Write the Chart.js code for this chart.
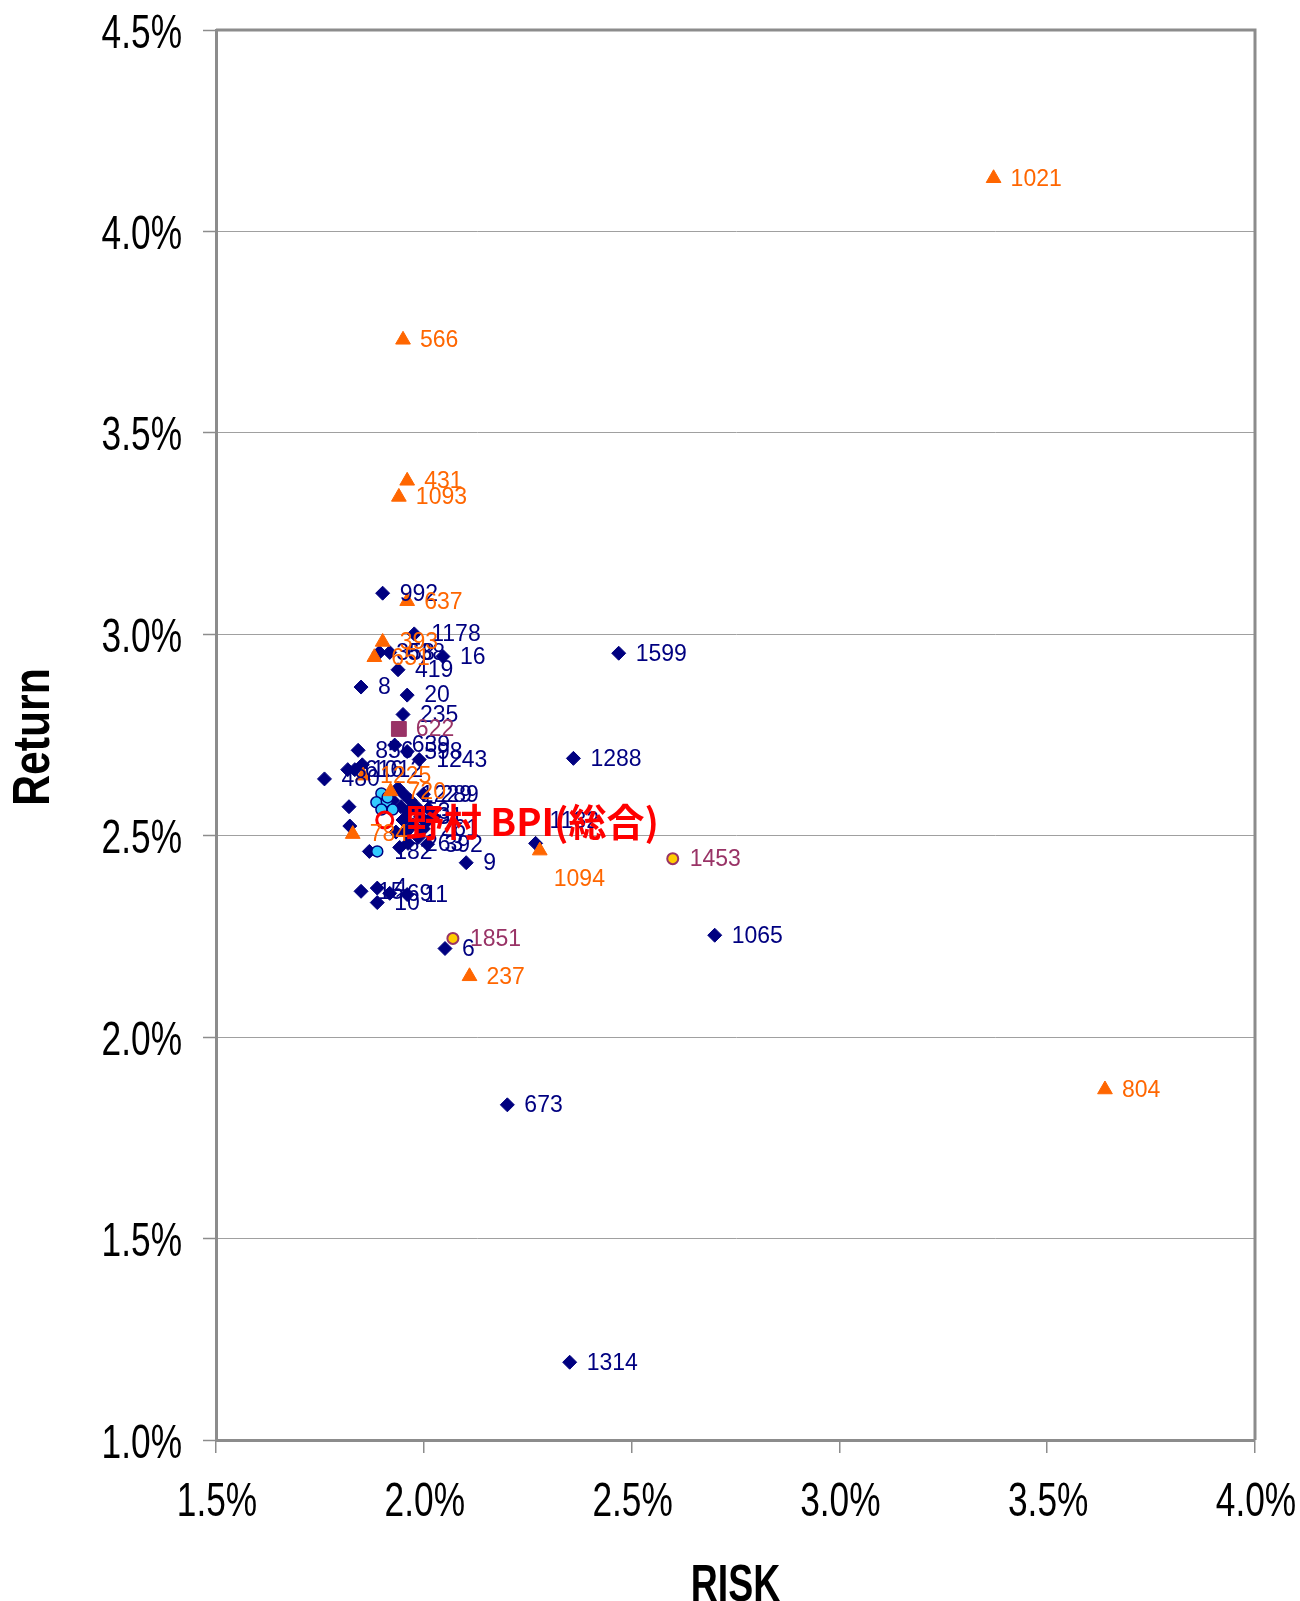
<!DOCTYPE html>
<html lang="ja">
<head>
    <meta charset="UTF-8">
    <title>Risk / Return</title>
    <script src="https://cdn.jsdelivr.net/npm/chart.js"></script>
</head>
<style>
    html, body { margin: 0; padding: 0; background: #fff; }
</style>
<body>
    <canvas id="riskChart" width="1300" height="1601"></canvas>

    <script>
        // [risk %, return %, fund no.]
        const navyFunds = [
            [1.901, 3.102, '992'], [1.977, 3.001, '1178'], [1.893, 2.955, '358'], [1.918, 2.955, '638'],
            [2.046, 2.945, '16'], [1.938, 2.912, '419'], [1.849, 2.869, '8'], [1.960, 2.849, '20'],
            [1.950, 2.801, '235'], [1.842, 2.712, '856'], [1.930, 2.725, '639'], [1.960, 2.709, '598'],
            [1.989, 2.689, '1243'], [1.761, 2.641, '480'], [1.817, 2.664, '616'], [1.834, 2.664, '1012'],
            [1.852, 2.676, ''], [2.469, 2.953, '1599'], [2.360, 2.692, '1288'], [2.269, 2.481, '1132'],
            [2.102, 2.433, '9'], [2.009, 2.479, '392'], [1.820, 2.572, ''], [1.822, 2.524, ''],
            [1.869, 2.461, ''], [1.849, 2.362, '15'], [1.888, 2.370, '4'], [1.918, 2.357, '69'],
            [1.960, 2.354, '11'], [1.888, 2.334, '10'], [2.051, 2.220, '6'], [2.700, 2.253, '1065'],
            [2.201, 1.832, '673'], [2.351, 1.193, '1314'], [1.999, 2.603, '289'],
            [1.938, 2.618, ''], [1.952, 2.603, '1229'], [1.967, 2.588, ''], [1.945, 2.572, ''],
            [1.962, 2.560, '53'], [1.982, 2.572, ''], [1.992, 2.547, '31'], [1.950, 2.539, ''],
            [1.974, 2.527, ''], [1.999, 2.517, '261'], [1.957, 2.509, ''], [2.011, 2.567, ''],
            [1.987, 2.496, ''], [1.962, 2.481, '263'], [1.942, 2.471, ''], [2.006, 2.534, ''],
            [1.925, 2.588, ''], [1.933, 2.509, ''], [2.024, 2.547, '']
        ];
        const orangeFunds = [
            [3.371, 4.132, '1021'], [1.950, 3.731, '566'], [1.960, 3.381, '431'], [1.940, 3.341, '1093'],
            [1.960, 3.082, '637'], [1.901, 2.981, '393'], [1.881, 2.943, '651'], [1.854, 2.649, '1225'],
            [1.920, 2.610, '720'], [1.829, 2.504, '784'], [2.279, 2.463, '1094'], [2.110, 2.151, '237'],
            [3.639, 1.870, '804']
        ];
        const cyanFunds = [
            [1.898, 2.605, ''], [1.886, 2.583, ''], [1.911, 2.585, ''], [1.898, 2.565, ''],
            [1.925, 2.565, ''], [1.913, 2.595, ''], [1.888, 2.461, '182']
        ];
        const squareFunds = [[1.940, 2.765, '622']];
        const yellowFunds = [[2.599, 2.443, '1453'], [2.070, 2.245, '1851']];
        const benchmark = [[1.906, 2.539, '野村 BPI(総合)']];

        const xTicks = [1.5, 2.0, 2.5, 3.0, 3.5, 4.0];
        const yTicks = [1.0, 1.5, 2.0, 2.5, 3.0, 3.5, 4.0, 4.5];
        const xTitle = 'RISK';
        const yTitle = 'Return';

        // labels that sit away from their marker
        const labelShift = { '1094': [14, 29], '1132': [14, -22], '野村 BPI(総合)': [21, 2] };

        const LABEL_FONT = "23px 'Liberation Sans', Arial, sans-serif";

        function toPoints(rows) {
            return rows.map(r => ({ x: r[0], y: r[1] }));
        }

        // drawn in reverse order: last dataset is at the bottom
        const datasets = [
            { label: 'bpi', rows: benchmark, data: toPoints(benchmark), pointStyle: 'circle', pointRadius: 8,
              backgroundColor: 'rgba(0,0,0,0)', borderColor: '#FF0000', borderWidth: 3,
              labelColor: '#FF0000', labelFont: "bold 38px 'Noto Sans CJK JP', sans-serif" },
            { label: 'yellow', rows: yellowFunds, data: toPoints(yellowFunds), pointStyle: 'circle', pointRadius: 5.5,
              backgroundColor: '#FFCC00', borderColor: '#993366', borderWidth: 2,
              labelColor: '#993366', labelFont: LABEL_FONT },
            { label: 'square', rows: squareFunds, data: toPoints(squareFunds), pointStyle: 'rect', pointRadius: 10.5,
              backgroundColor: '#993366', borderColor: '#993366', borderWidth: 1,
              labelColor: '#993366', labelFont: LABEL_FONT },
            { label: 'orange', rows: orangeFunds, data: toPoints(orangeFunds), pointStyle: 'triangle', pointRadius: 8.5,
              backgroundColor: '#FF6600', borderColor: '#FF6600', borderWidth: 1,
              labelColor: '#FF6600', labelFont: LABEL_FONT },
            { label: 'cyan', rows: cyanFunds, data: toPoints(cyanFunds), pointStyle: 'circle', pointRadius: 5.5,
              backgroundColor: '#33CCFF', borderColor: '#000080', borderWidth: 1.5,
              labelColor: '#000080', labelFont: LABEL_FONT },
            { label: 'navy', rows: navyFunds, data: toPoints(navyFunds), pointStyle: 'rectRot', pointRadius: 7,
              backgroundColor: '#000080', borderColor: '#000080', borderWidth: 1,
              labelColor: '#000080', labelFont: LABEL_FONT }
        ];
        datasets.forEach(d => { d.pointHoverRadius = d.pointRadius; });

        const pointLabels = {
            id: 'pointLabels',
            afterDatasetsDraw(chart) {
                const ctx = chart.ctx;
                ctx.save();
                ctx.textAlign = 'left';
                ctx.textBaseline = 'middle';
                for (let i = chart.data.datasets.length - 1; i >= 0; i--) {
                    const ds = chart.data.datasets[i];
                    const meta = chart.getDatasetMeta(i);
                    ctx.font = ds.labelFont;
                    ctx.fillStyle = ds.labelColor;
                    meta.data.forEach((pt, j) => {
                        const text = ds.rows[j][2];
                        if (!text) return;
                        const off = labelShift[text] || [17, 1];
                        ctx.fillText(text, pt.x + off[0], pt.y + off[1]);
                    });
                }
                ctx.restore();
            }
        };

        const frame = {
            id: 'frame',
            beforeDatasetsDraw(chart) {
                const a = chart.chartArea;
                const ctx = chart.ctx;
                ctx.save();
                ctx.strokeStyle = '#8c8c8c';
                ctx.lineWidth = 3;
                ctx.beginPath();
                ctx.moveTo(a.left, a.top);
                ctx.lineTo(a.right, a.top);
                ctx.lineTo(a.right, a.bottom);
                ctx.stroke();
                ctx.restore();
            }
        };

        // the original axis text is horizontally squeezed Arial
        function squeezed(ctx, text, x, y, align, k, rot) {
            ctx.save();
            ctx.translate(x, y);
            if (rot) ctx.rotate(rot);
            ctx.scale(k, 1);
            ctx.textAlign = align;
            ctx.textBaseline = 'alphabetic';
            ctx.fillText(text, 0, 0);
            ctx.restore();
        }

        const axisText = {
            id: 'axisText',
            afterDraw(chart) {
                const ctx = chart.ctx;
                const xs = chart.scales.x, ys = chart.scales.y;
                const a = chart.chartArea;
                const fmt = v => v.toFixed(1) + '%';
                ctx.save();
                ctx.fillStyle = '#000';
                ctx.font = "49px 'Liberation Sans', Arial, sans-serif";
                ys.ticks.forEach(t => {
                    squeezed(ctx, fmt(t.value), a.left - 34, ys.getPixelForValue(t.value) + 17.5, 'right', 0.72);
                });
                xs.ticks.forEach(t => {
                    squeezed(ctx, fmt(t.value), xs.getPixelForValue(t.value) + 1, a.bottom + 76, 'center', 0.72);
                });
                ctx.font = "bold 52px 'Liberation Sans', Arial, sans-serif";
                squeezed(ctx, xTitle, (a.left + a.right) / 2, 1601, 'center', 0.72);
                squeezed(ctx, yTitle, 49, (a.top + a.bottom) / 2 + 2, 'center', 0.82, -Math.PI / 2);
                ctx.restore();
            }
        };

        new Chart(document.getElementById('riskChart'), {
            type: 'scatter',
            data: { datasets: datasets },
            plugins: [frame, pointLabels, axisText],
            options: {
                responsive: false,
                animation: false,
                events: [],
                layout: { padding: { top: 30, right: 45, bottom: 0, left: 0 } },
                plugins: { legend: { display: false }, tooltip: { enabled: false } },
                scales: {
                    x: {
                        type: 'linear', min: 1.5, max: 4.0,
                        afterFit(s) { s.height = 161; s.paddingLeft = 0; s.paddingRight = 0; },
                        afterBuildTicks(s) { s.ticks = xTicks.map(v => ({ value: v })); },
                        grid: { drawOnChartArea: false, drawTicks: true, tickLength: 13, color: '#8c8c8c', lineWidth: 1.5 },
                        border: { color: '#8c8c8c', width: 3 },
                        ticks: { display: false }
                    },
                    y: {
                        type: 'linear', min: 1.0, max: 4.5,
                        afterFit(s) { s.width = 216; s.paddingTop = 0; s.paddingBottom = 0; },
                        afterBuildTicks(s) { s.ticks = yTicks.map(v => ({ value: v })); },
                        grid: { color: '#a0a0a0', lineWidth: 1, tickLength: 13, tickColor: '#8c8c8c', tickWidth: 1.5 },
                        border: { color: '#8c8c8c', width: 3 },
                        ticks: { display: false }
                    }
                }
            }
        });
    </script>
</body>
</html>
